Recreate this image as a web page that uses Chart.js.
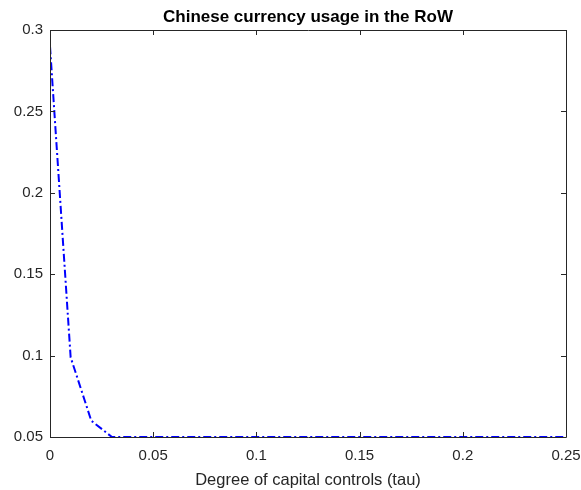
<!DOCTYPE html>
<html>
<head>
<meta charset="utf-8">
<script src="https://cdn.jsdelivr.net/npm/chart.js@4"></script>
<style>
  html, body { margin: 0; padding: 0; background: #ffffff; }
  #wrap { width: 581px; height: 490px; }
</style>
</head>
<body>
<div id="wrap"><canvas id="c" width="581" height="490"></canvas></div>
<script>
// Degree of capital controls (tau) and resulting RoW usage of Chinese currency
const tau = [0, 0.01, 0.02, 0.03, 0.04, 0.05, 0.06, 0.07, 0.08, 0.09, 0.10, 0.11, 0.12,
             0.13, 0.14, 0.15, 0.16, 0.17, 0.18, 0.19, 0.20, 0.21, 0.22, 0.23, 0.24, 0.25];
const usage = [0.29, 0.099, 0.06, 0.05, 0.05, 0.05, 0.05, 0.05, 0.05, 0.05, 0.05, 0.05, 0.05,
               0.05, 0.05, 0.05, 0.05, 0.05, 0.05, 0.05, 0.05, 0.05, 0.05, 0.05, 0.05, 0.05];
const xTicks = [0, 0.05, 0.1, 0.15, 0.2, 0.25];
const xTickLabels = ['0', '0.05', '0.1', '0.15', '0.2', '0.25'];
const yTicks = [0.05, 0.1, 0.15, 0.2, 0.25, 0.3];
const yTickLabels = ['0.05', '0.1', '0.15', '0.2', '0.25', '0.3'];

const axisColor = '#262626';
const fontFamily = '"Liberation Sans", Arial, Helvetica, sans-serif';

// Box around the plot area with inward ticks on all four sides
const boxTicks = {
  id: 'boxTicks',
  afterLayout(chart) {
    // centre the title over the plot area rather than the whole canvas
    const t = chart.titleBlock;
    if (t) { t.left = chart.chartArea.left; t.right = chart.chartArea.right; }
  },
  afterDatasetsDraw(chart) {
    const {ctx, chartArea: a, scales: {x, y}} = chart;
    const len = 5;
    ctx.save();
    ctx.strokeStyle = axisColor;
    ctx.lineWidth = 1;
    ctx.beginPath();
    ctx.rect(Math.round(a.left) + 0.5, Math.round(a.top) + 0.5,
             Math.round(a.right - a.left), Math.round(a.bottom - a.top));
    xTicks.forEach(v => {
      const px = Math.round(x.getPixelForValue(v)) + 0.5;
      ctx.moveTo(px, a.bottom); ctx.lineTo(px, a.bottom - len);
      ctx.moveTo(px, a.top); ctx.lineTo(px, a.top + len);
    });
    yTicks.forEach(v => {
      const py = Math.round(y.getPixelForValue(v)) + 0.5;
      ctx.moveTo(a.left, py); ctx.lineTo(a.left + len, py);
      ctx.moveTo(a.right, py); ctx.lineTo(a.right - len, py);
    });
    ctx.stroke();
    ctx.restore();
  }
};

new Chart(document.getElementById('c'), {
  type: 'line',
  data: {
    datasets: [{
      data: tau.map((t, i) => ({x: t, y: usage[i]})),
      borderColor: '#0000ff',
      borderWidth: 2,
      borderDash: [8, 3, 2, 3],
      pointRadius: 0,
      fill: false,
      tension: 0
    }]
  },
  options: {
    responsive: false,
    animation: false,
    devicePixelRatio: 1,
    layout: { autoPadding: false, padding: { left: 0, right: 15, top: 0, bottom: 0 } },
    plugins: {
      legend: { display: false },
      tooltip: { enabled: false },
      title: {
        display: true,
        text: 'Chinese currency usage in the RoW',
        color: '#000000',
        font: { family: fontFamily, size: 17, weight: 'bold' },
        padding: { top: 7, bottom: 2.6 }
      }
    },
    scales: {
      x: {
        type: 'linear',
        min: 0, max: 0.25,
        afterBuildTicks(s) { s.ticks = xTicks.map(v => ({value: v})); },
        afterFit(s) { s.height = 53; s.paddingLeft = 0; s.paddingRight = 0; },
        grid: { display: false, drawTicks: false },
        border: { display: false },
        ticks: {
          padding: 10,
          color: axisColor,
          font: { family: fontFamily, size: 15 },
          maxRotation: 0,
          callback: (v) => xTickLabels[xTicks.indexOf(v)] ?? ''
        },
        title: {
          display: true,
          text: 'Degree of capital controls (tau)',
          color: axisColor,
          font: { family: fontFamily, size: 16.5 },
          padding: { top: 0, bottom: 0 }
        }
      },
      y: {
        type: 'linear',
        min: 0.05, max: 0.3,
        afterBuildTicks(s) { s.ticks = yTicks.map(v => ({value: v})); },
        afterFit(s) { s.width = 50; s.paddingTop = 0; s.paddingBottom = 0; },
        grid: { display: false, drawTicks: false },
        border: { display: false },
        ticks: {
          padding: 7,
          color: axisColor,
          font: { family: fontFamily, size: 15 },
          callback: (v) => yTickLabels[yTicks.indexOf(v)] ?? ''
        }
      }
    }
  },
  plugins: [boxTicks]
});
</script>
</body>
</html>
